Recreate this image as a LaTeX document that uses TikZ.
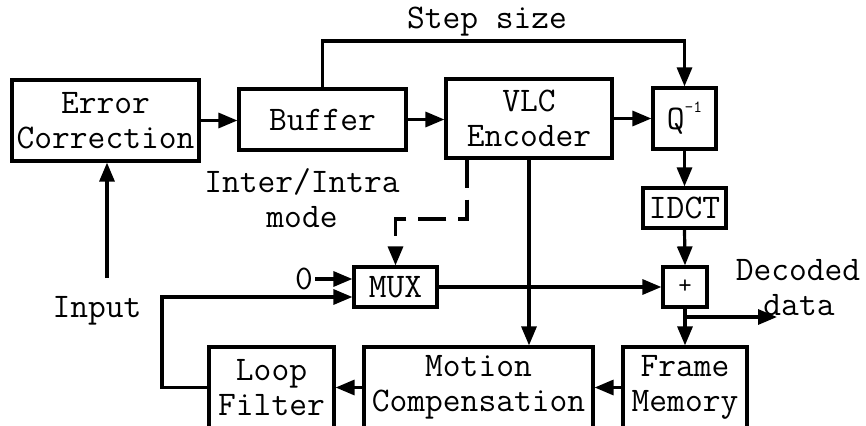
\documentclass[tikz,border=0pt]{standalone}
\usepackage{fontspec}
\usetikzlibrary{arrows.meta}
\begin{document}
\begin{tikzpicture}[x=1pt,y=-1pt,
  box/.style={draw, line width=3.2pt, inner sep=0pt, align=center,
    font=\ttfamily\fontsize{34.5}{35}\selectfont},
  conn/.style={line width=3.2pt, -{Triangle[length=19pt,width=15pt]}},
  lbl/.style={font=\ttfamily\fontsize{34.5}{35}\selectfont, align=center, inner sep=0pt}]
\useasboundingbox (0,0) rectangle (866,425);
\clip (0,0) rectangle (866,425);
% boxes
\node[box, minimum width=187pt, minimum height=81pt] (ec) at (105.5,120.5) {Error\\Correction};
\node[box, minimum width=167pt, minimum height=61pt] (buf) at (322.5,119.5) {Buffer};
\node[box, minimum width=166pt, minimum height=79pt] (vlc) at (529,118.5) {VLC\\Encoder};
\node[box, minimum width=63pt, minimum height=61pt] (q) at (684.5,118.5) {Q\raisebox{17pt}{\fontsize{17}{17}\selectfont -1}};
\node[box, minimum width=83pt, minimum height=40pt] (idct) at (684.5,208) {IDCT};
\node[box, minimum width=44pt, minimum height=40pt, font=\ttfamily\fontsize{26}{26}\selectfont] (plus) at (685,287) {+};
\node[box, minimum width=83pt, minimum height=40pt] (mux) at (395.5,287) {MUX};
\node[box, minimum width=125pt, minimum height=81pt] (loop) at (271.5,387.5) {Loop\\Filter};
\node[box, minimum width=229pt, minimum height=81pt] (mc) at (478.5,387.5) {Motion\\Compensation};
\node[box, minimum width=124pt, minimum height=81pt] (fm) at (685,387.5) {Frame\\Memory};
% labels
\node[lbl] (stepsz) at (487,22) {Step size};
\node[lbl] (inter) at (302,182) {Inter/Intra};
\node[lbl] (mode) at (302,217) {mode};
\node[lbl] (input) at (97,311) {Input};
\node[lbl] (dec) at (798,270) {Decoded};
\node[lbl] (data) at (799,305) {data};
\node[lbl, inner xsep=2pt] (zero) at (304,279) {0};
% coordinates
\coordinate (st) at (322.5,41);
\coordinate (in) at (107,278);
\coordinate (lf) at (162,297);
\coordinate (d1) at (467,219);
\coordinate (dd) at (777,317);
% connectors
\draw[conn] (ec.east) -- (ec.east -| buf.west);
\draw[conn] (buf.east) -- (buf.east -| vlc.west);
\draw[conn] (vlc.east) -- (vlc.east -| q.west);
\draw[conn] (buf.north) -- (st) -| (q.north);
\draw[conn] (q.south) -- (idct.north);
\draw[conn] (idct.south) -- (plus.north);
\draw[conn] (mux.east) -- (plus.west);
\draw[conn] (plus.south) -- (fm.north);
\draw[conn] (plus.south |- dd) -- (dd);
\draw[conn] (fm.west) -- (mc.east);
\draw[conn] (mc.west) -- (loop.east);
\draw[conn] (loop.west) -| (lf) -- (lf -| mux.west);
\draw[conn] (zero.east) -- (zero.east -| mux.west);
\draw[conn] (in) -- (in |- ec.south);
\draw[conn] (vlc.south) -- (vlc.south |- mc.north);
\draw[conn, dash pattern=on 28pt off 12pt] (d1 |- vlc.south) -- (d1) -| (mux.north);
\end{tikzpicture}
\end{document}
